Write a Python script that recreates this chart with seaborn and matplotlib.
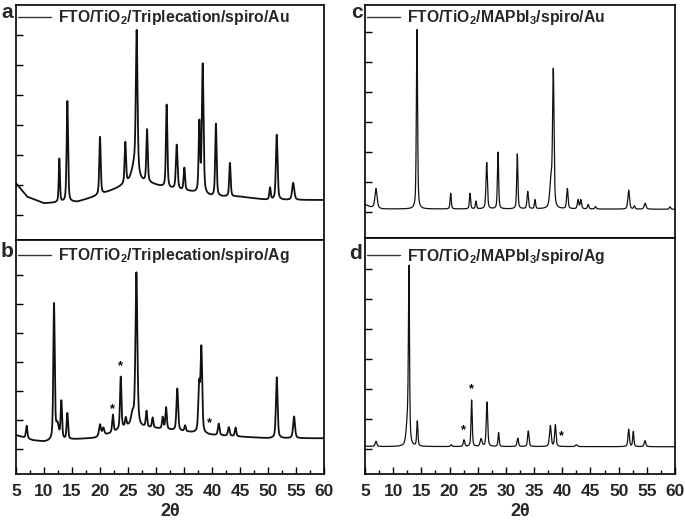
import numpy as np
import pandas as pd
import seaborn as sns
import matplotlib.pyplot as plt
from matplotlib.ticker import MultipleLocator

sns.set_theme(style="ticks")
plt.rcParams['font.family'] = ['Liberation Sans', 'DejaVu Sans']
plt.rcParams['font.weight'] = 'bold'
plt.rcParams['mathtext.fontset'] = 'custom'
plt.rcParams['mathtext.bf'] = 'Liberation Sans:bold'
plt.rcParams['mathtext.rm'] = 'Liberation Sans:bold'

# 2-theta grid
two_theta = np.linspace(5, 60, 2751)

# ---- panel a: FTO/TiO2/Triplecation/spiro/Au ----
a_base_x = [5, 7, 10, 12, 16, 20, 23, 26, 29, 32, 36, 40, 45, 50, 55, 60]
a_base_y = [1060, 610, 390, 410, 440, 670, 890, 1150, 1050, 890, 780, 610, 610, 500, 500, 500]
a_pos = [12.74, 14.17, 20.0, 24.52, 26.55, 26.2, 28.4, 31.9, 33.7, 35.06, 37.74, 38.34, 40.7, 43.2, 50.36, 51.56, 54.5]
a_amp = [1450, 3380, 1930, 1370, 4650, 500, 1750, 2770, 1480, 750, 2300, 4300, 2420, 1120, 400, 2170, 570]
a_wid = [0.25, 0.3, 0.3, 0.3, 0.35, 1.2, 0.3, 0.3, 0.35, 0.3, 0.3, 0.35, 0.3, 0.3, 0.3, 0.35, 0.45]

# ---- panel b: FTO/TiO2/Triplecation/spiro/Ag ----
b_base_x = [5, 8, 10, 15, 19, 22, 25, 30, 35, 40, 45, 50, 55, 60]
b_base_y = [480, 300, 250, 330, 380, 540, 770, 710, 600, 480, 425, 370, 370, 370]
b_pos = [6.9, 11.79, 12.4, 13.1, 14.17, 20.0, 20.6, 22.3, 23.7, 24.6, 25.8, 26.5, 28.3, 29.4, 31.2, 31.8,
         33.8, 35.2, 37.7, 38.1, 41.2, 43.0, 44.2, 51.56, 54.65]
b_amp = [430, 4700, 500, 1300, 900, 400, 250, 600, 1800, 300, 400, 5300, 550, 350, 400, 750,
         1450, 200, 1600, 2900, 400, 300, 300, 2100, 750]
b_wid = [0.3, 0.3, 0.6, 0.3, 0.3, 0.4, 0.4, 0.3, 0.3, 0.3, 0.6, 0.4, 0.3, 0.3, 0.3, 0.3,
         0.35, 0.3, 0.35, 0.35, 0.35, 0.35, 0.3, 0.35, 0.4]
b_stars = [22.2, 23.7, 39.5]

# ---- panel c: FTO/TiO2/MAPbI3/spiro/Au ----
c_base_x = [5, 6, 8, 20, 40, 60]
c_base_y = [250, 160, 100, 100, 100, 90]
c_pos = [6.95, 14.22, 20.2, 23.63, 24.69, 26.59, 28.6, 32.02, 33.87, 35.16, 38.0, 38.41,
         40.9, 42.8, 43.3, 44.6, 45.9, 51.78, 52.8, 54.7, 59.1]
c_amp = [650, 5980, 520, 520, 250, 1550, 1890, 1830, 580, 300, 900, 4500,
         670, 300, 300, 150, 80, 630, 100, 200, 80]
c_wid = [0.45, 0.25, 0.25, 0.25, 0.25, 0.3, 0.25, 0.25, 0.3, 0.25, 0.5, 0.3,
         0.3, 0.3, 0.3, 0.3, 0.3, 0.35, 0.3, 0.4, 0.3]

# ---- panel d: FTO/TiO2/MAPbI3/spiro/Ag ----
d_base_x = [5, 8, 20, 40, 60]
d_base_y = [90, 80, 80, 80, 75]
d_pos = [6.95, 12.6, 12.8, 14.28, 20.3, 22.56, 23.92, 25.6, 26.64, 28.7, 32.1, 33.97,
         37.88, 38.77, 42.5, 51.78, 52.6, 54.67]
d_amp = [170, 900, 5400, 830, 60, 220, 1550, 250, 1480, 460, 280, 520,
         690, 720, 60, 580, 500, 200]
d_wid = [0.35, 0.6, 0.22, 0.25, 0.3, 0.3, 0.25, 0.4, 0.3, 0.25, 0.3, 0.3,
         0.35, 0.3, 0.4, 0.3, 0.25, 0.35]
d_stars = [22.5, 23.92, 39.8]

labels = {
    'a': r'FTO/TiO$_\mathbf{2}$/Triplecation/spiro/Au',
    'b': r'FTO/TiO$_\mathbf{2}$/Triplecation/spiro/Ag',
    'c': r'FTO/TiO$_\mathbf{2}$/MAPbI$_\mathbf{3}$/spiro/Au',
    'd': r'FTO/TiO$_\mathbf{2}$/MAPbI$_\mathbf{3}$/spiro/Ag',
}


def pattern(base_x, base_y, pos, amp, wid):
    y = np.interp(two_theta, base_x, base_y)
    for p, h, w in zip(pos, amp, wid):
        g = np.exp(-4 * np.log(2) * ((two_theta - p) / w) ** 2)
        l = 1 / (1 + 4 * ((two_theta - p) / w) ** 2)
        y = y + h * (0.5 * g + 0.5 * l)
    return y


fig = plt.figure(figsize=(6.85, 5.2), dpi=100)
W, H = 685, 520
ax_a = fig.add_axes([16 / W, 1 - 240 / H, 308 / W, 235 / H])
ax_b = fig.add_axes([16 / W, 1 - 474 / H, 308 / W, 234 / H])
ax_c = fig.add_axes([365 / W, 1 - 238 / H, 310 / W, 233 / H])
ax_d = fig.add_axes([365 / W, 1 - 474 / H, 310 / W, 236 / H])

panels = [
    (ax_a, 'a', (a_base_x, a_base_y, a_pos, a_amp, a_wid), (-833, 7000), 1.3, [], (1, 3), 0.986),
    (ax_b, 'b', (b_base_x, b_base_y, b_pos, b_amp, b_wid), (-862, 7210), 1.3, b_stars, (1, 242), 0.974),
    (ax_c, 'c', (c_base_x, c_base_y, c_pos, c_amp, c_wid), (-867, 6900), 0.9, [], (351, 3), 0.986),
    (ax_d, 'd', (d_base_x, d_base_y, d_pos, d_amp, d_wid), (-833, 7033), 0.9, d_stars, (349, 244), 0.963),
]

for ax, key, spec, ylim, lw, stars, lab_xy, leg_y in panels:
    y = pattern(*spec)
    df = pd.DataFrame({'2theta': two_theta, 'I': y})
    sns.lineplot(data=df, x='2theta', y='I', ax=ax, color='#111111', lw=lw,
                 label=labels[key])
    for sx in stars:
        ax.text(sx, np.interp(sx, two_theta, y) + 150, '*', ha='center', va='bottom',
                fontsize=9, color='black')
    ax.set_xlim(5, 60)
    ax.set_ylim(*ylim)
    ax.set_yticks(np.arange(0, 7000, 1000))
    ax.set_yticklabels([])
    ax.set_ylabel('')
    ax.set_xlabel('')
    ax.xaxis.set_major_locator(MultipleLocator(5))
    ax.xaxis.set_minor_locator(MultipleLocator(2.5))
    ax.tick_params(axis='both', which='both', direction='in', top=False, right=False,
                   color='black', width=1.0)
    ax.tick_params(axis='y', length=5)
    ax.tick_params(axis='x', which='major', length=5, labelsize=12.5, pad=7)
    ax.tick_params(axis='x', which='minor', length=3)
    for s in ax.spines.values():
        s.set_color('black')
        s.set_linewidth(1.2)
    leg = ax.legend(loc='upper left', bbox_to_anchor=(0.008, leg_y), frameon=False,
                    handlelength=2.1, handletextpad=0.4, borderaxespad=0.0,
                    borderpad=0.0, prop={'weight': 'bold', 'size': 11.3})
    for h in leg.get_lines():
        h.set_color('#333333')
        h.set_linewidth(1.0)
    fig.text(lab_xy[0] / W, 1 - lab_xy[1] / H, key, ha='left', va='top',
             fontsize=15, fontweight='bold')

for ax in (ax_a, ax_c):
    ax.tick_params(axis='x', which='both', bottom=False, labelbottom=False)

for ax in (ax_b, ax_d):
    ax.set_xlabel('2θ', fontsize=13, fontweight='bold', labelpad=3)
    for t in ax.get_xticklabels():
        t.set_fontweight('bold')

fig.savefig('out.png', dpi=100)
